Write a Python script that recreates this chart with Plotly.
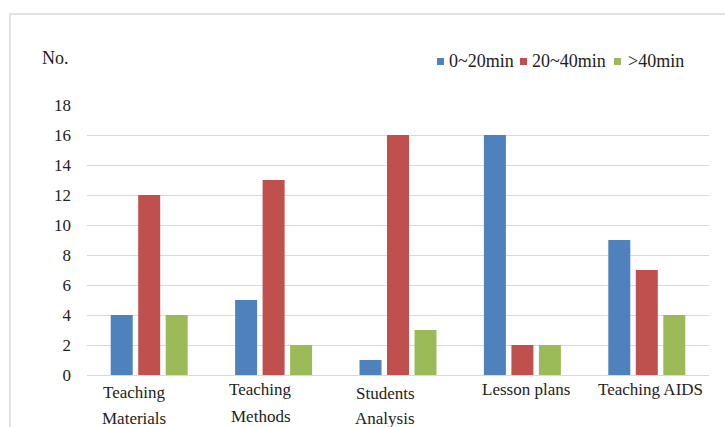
import plotly.graph_objects as go

categories = ["Teaching Materials", "Teaching Methods", "Students Analysis", "Lesson plans", "Teaching AIDS"]
label_lines = [["Teaching", "Materials"], ["Teaching", "Methods"], ["Students", "Analysis"], ["Lesson plans"], ["Teaching AIDS"]]
series_names = ["0~20min", "20~40min", ">40min"]
v_0_20 = [4, 5, 1, 16, 9]
v_20_40 = [12, 13, 16, 2, 7]
v_40_plus = [4, 2, 3, 2, 4]
series_values = [v_0_20, v_20_40, v_40_plus]
colors = ["#4F81BD", "#C0504D", "#9BBB59"]
y_ticks = [0, 2, 4, 6, 8, 10, 12, 14, 16, 18]

FONT = "Liberation Serif, Times New Roman, Times, serif"
W, H = 725, 427
L, R, T, B = 87, 16, 105, 52
pw = W - L - R
ph = H - T - B

def px(x):
    return (x - L) / pw

def py(y):
    return (H - B - y) / ph

fig = go.Figure()
for name, vals, c in zip(series_names, series_values, colors):
    fig.add_trace(go.Bar(x=categories, y=vals, name=name, marker_color=c,
                         marker_line_width=0, showlegend=False))

fig.update_layout(
    width=W, height=H,
    margin=dict(l=L, r=R, t=T, b=B),
    paper_bgcolor="white", plot_bgcolor="white",
    barmode="group", bargap=0.337, bargroupgap=0.2,
    font=dict(family=FONT, size=15, color="#222222"),
)
fig.update_xaxes(showticklabels=False, showgrid=False, showline=True,
                 linecolor="#d9d9d9", linewidth=1, ticks="")
fig.update_yaxes(range=[0, 18], tickvals=y_ticks, showgrid=True, gridcolor="#d9d9d9",
                 gridwidth=1, zeroline=False, showline=False, ticks="",
                 ticklabelstandoff=15, tickfont=dict(family=FONT, size=17, color="#222222"))

# category labels
line1_y = [392, 389, 393, 389, 389]
line2_y = [418, 416, 418, None, None]
xshifts = [-15, -13, -13, 4, 4]
for i, (cat, lines) in enumerate(zip(categories, label_lines)):
    ys = [line1_y[i], line2_y[i]]
    for j, t in enumerate(lines):
        fig.add_annotation(x=cat, xref="x", y=py(ys[j]), yref="paper", text=t,
                           showarrow=False, xanchor="center", yanchor="middle",
                           xshift=xshifts[i], font=dict(family=FONT, size=17, color="#222222"))

# y axis title
fig.add_annotation(x=px(40), xref="paper", y=py(58), yref="paper", text="No.",
                   showarrow=False, xanchor="left", yanchor="middle",
                   font=dict(family=FONT, size=18, color="#222222"))

# custom legend
sq_x = [437, 520, 614]
txt_x = [447, 530, 626]
for name, c, sx, tx in zip(series_names, colors, sq_x, txt_x):
    fig.add_shape(type="rect", xref="paper", yref="paper",
                  x0=px(sx), x1=px(sx + 7), y0=py(65), y1=py(58),
                  fillcolor=c, line_width=0)
    fig.add_annotation(x=px(tx), xref="paper", y=py(61), yref="paper", text=name,
                       showarrow=False, xanchor="left", yanchor="middle",
                       font=dict(family=FONT, size=18, color="#222222"))

# outer chart border
fig.add_shape(type="rect", xref="paper", yref="paper",
              x0=px(10), x1=px(740), y0=py(440), y1=py(14),
              line=dict(color="#e3e3e3", width=2), fillcolor="rgba(0,0,0,0)", layer="below")

fig.write_html("out.html")
